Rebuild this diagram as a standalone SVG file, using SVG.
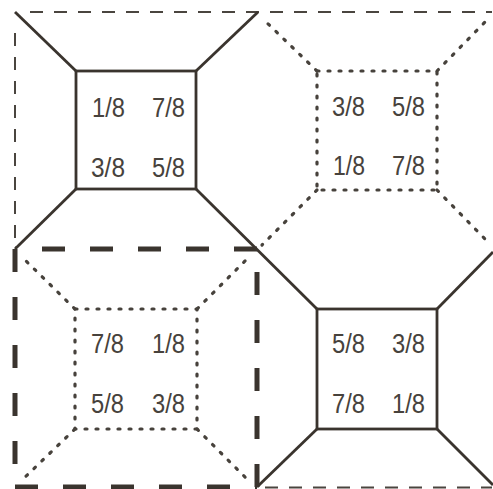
<svg xmlns="http://www.w3.org/2000/svg" width="493" height="489" viewBox="0 0 493 489">
<style>
.solid{fill:none;stroke:#3a342e;stroke-width:2.8;stroke-linejoin:miter}
.dot{fill:none;stroke:#47423c;stroke-width:3.2;stroke-linecap:round;stroke-dasharray:2 9}
.thin{fill:none;stroke:#4a453f;stroke-width:2;stroke-dasharray:13 11}
.bold{fill:none;stroke:#3a342e;stroke-width:5;stroke-dasharray:23 25}
text{font-family:"Liberation Sans",Arial,sans-serif;font-size:27px;fill:#47423c;text-anchor:middle}
</style>
<rect width="493" height="489" fill="#ffffff"/>
<g id="connectors">
  <path class="thin" d="M30,12 H492"/>
  <path class="thin" d="M15,33 V246"/>
  <path class="thin" d="M265,487.5 H492"/>
  <path class="bold" d="M15,249 V487"/>
  <path class="bold" d="M15,487 H257"/>
  <path class="bold" d="M257,487 V249"/>
  <path class="bold" d="M257,249 H15"/>
  <path class="solid" d="M15,12 L76,71"/>
  <path class="solid" d="M258,12 L196,71"/>
  <path class="solid" d="M76,189 L15,249"/>
  <path class="solid" d="M196,189 L317,309"/>
  <path class="solid" d="M437,309 L493,252"/>
  <path class="solid" d="M317,429 L257,487"/>
  <path class="solid" d="M437,429 L493,485"/>
  <path class="dot" d="M317,71 L263,19"/>
  <path class="dot" d="M437,71 L486,21"/>
  <path class="dot" d="M317,190 L262,245"/>
  <path class="dot" d="M437,190 L489,243"/>
  <path class="dot" d="M75,309 L21,256"/>
  <path class="dot" d="M197,309 L249,257"/>
  <path class="dot" d="M75,429 L21,481"/>
  <path class="dot" d="M197,429 L250,482"/>
</g>
<g id="node-top-left">
  <rect class="solid" x="76" y="71" width="120" height="118"/>
  <text x="108.5" y="117" textLength="33" lengthAdjust="spacingAndGlyphs">1/8</text>
  <text x="168.5" y="117" textLength="33" lengthAdjust="spacingAndGlyphs">7/8</text>
  <text x="108" y="177" textLength="34" lengthAdjust="spacingAndGlyphs">3/8</text>
  <text x="168.5" y="177" textLength="33" lengthAdjust="spacingAndGlyphs">5/8</text>
</g>
<g id="node-top-right">
  <rect class="dot" x="317" y="71" width="120" height="119"/>
  <text x="348.5" y="116" textLength="33" lengthAdjust="spacingAndGlyphs">3/8</text>
  <text x="408.5" y="116" textLength="33" lengthAdjust="spacingAndGlyphs">5/8</text>
  <text x="349" y="175" textLength="32" lengthAdjust="spacingAndGlyphs">1/8</text>
  <text x="408.5" y="175" textLength="33" lengthAdjust="spacingAndGlyphs">7/8</text>
</g>
<g id="node-bottom-left">
  <rect class="dot" x="75" y="309" width="122" height="120"/>
  <text x="107.5" y="353" textLength="33" lengthAdjust="spacingAndGlyphs">7/8</text>
  <text x="168.5" y="353" textLength="33" lengthAdjust="spacingAndGlyphs">1/8</text>
  <text x="107.5" y="413" textLength="33" lengthAdjust="spacingAndGlyphs">5/8</text>
  <text x="168.5" y="413" textLength="33" lengthAdjust="spacingAndGlyphs">3/8</text>
</g>
<g id="node-bottom-right">
  <rect class="solid" x="317" y="309" width="120" height="120"/>
  <text x="348.5" y="353" textLength="33" lengthAdjust="spacingAndGlyphs">5/8</text>
  <text x="408.5" y="353" textLength="33" lengthAdjust="spacingAndGlyphs">3/8</text>
  <text x="348.5" y="413" textLength="33" lengthAdjust="spacingAndGlyphs">7/8</text>
  <text x="408.5" y="413" textLength="33" lengthAdjust="spacingAndGlyphs">1/8</text>
</g>
</svg>
